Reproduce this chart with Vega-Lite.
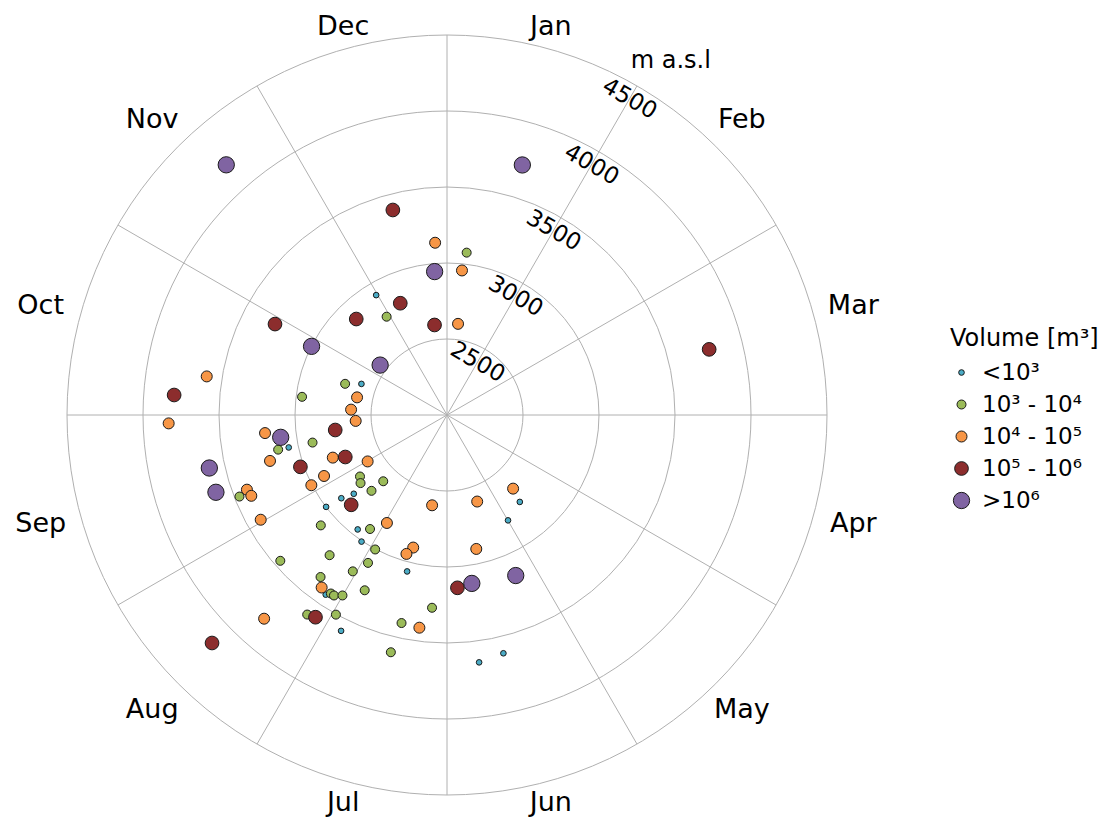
{
  "$schema": "https://vega.github.io/schema/vega-lite/v6.json",
  "width": 760,
  "height": 760,
  "autosize": {"type": "none"},
  "padding": {"left": 67, "top": 35, "right": 288, "bottom": 24},
  "background": "white",
  "config": {"view": {"stroke": null}, "font": "DejaVu Sans"},
  "datasets": {
    "rings": [{"r": 500}, {"r": 1000}, {"r": 1500}, {"r": 2000}, {"r": 2500}],
    "spokes": [{"a": 0}, {"a": 30}, {"a": 60}, {"a": 90}, {"a": 120}, {"a": 150}],
    "months": [
      {"m": "Jan", "i": 0}, {"m": "Feb", "i": 1}, {"m": "Mar", "i": 2}, {"m": "Apr", "i": 3},
      {"m": "May", "i": 4}, {"m": "Jun", "i": 5}, {"m": "Jul", "i": 6}, {"m": "Aug", "i": 7},
      {"m": "Sep", "i": 8}, {"m": "Oct", "i": 9}, {"m": "Nov", "i": 10}, {"m": "Dec", "i": 11}
    ],
    "elevlabels": [{"e": 2500}, {"e": 3000}, {"e": 3500}, {"e": 4000}, {"e": 4500}],
    "unit": [{"t": "m a.s.l", "a": 32.3, "rr": 2755}],
    "events": [
      {"doy": 294, "elev": 2599, "vol": "<10³"},
      {"doy": 262, "elev": 3063, "vol": "<10³"},
      {"doy": 236, "elev": 2999, "vol": "<10³"},
      {"doy": 235, "elev": 2885, "vol": "<10³"},
      {"doy": 233, "elev": 2803, "vol": "<10³"},
      {"doy": 221, "elev": 2955, "vol": "<10³"},
      {"doy": 217, "elev": 3005, "vol": "<10³"},
      {"doy": 197, "elev": 3062, "vol": "<10³"},
      {"doy": 217, "elev": 3426, "vol": "<10³"},
      {"doy": 209, "elev": 3582, "vol": "<10³"},
      {"doy": 175, "elev": 3641, "vol": "<10³"},
      {"doy": 169, "elev": 3611, "vol": "<10³"},
      {"doy": 142, "elev": 2746, "vol": "<10³"},
      {"doy": 152, "elev": 2801, "vol": "<10³"},
      {"doy": 334, "elev": 2916, "vol": "<10³"},
      {"doy": 291, "elev": 2701, "vol": "10³ - 10⁴"},
      {"doy": 281, "elev": 2961, "vol": "10³ - 10⁴"},
      {"doy": 262, "elev": 3134, "vol": "10³ - 10⁴"},
      {"doy": 262, "elev": 2903, "vol": "10³ - 10⁴"},
      {"doy": 238, "elev": 2701, "vol": "10³ - 10⁴"},
      {"doy": 235, "elev": 2724, "vol": "10³ - 10⁴"},
      {"doy": 252, "elev": 3467, "vol": "10³ - 10⁴"},
      {"doy": 227, "elev": 2605, "vol": "10³ - 10⁴"},
      {"doy": 228, "elev": 2704, "vol": "10³ - 10⁴"},
      {"doy": 232, "elev": 3103, "vol": "10³ - 10⁴"},
      {"doy": 217, "elev": 2905, "vol": "10³ - 10⁴"},
      {"doy": 211, "elev": 3003, "vol": "10³ - 10⁴"},
      {"doy": 223, "elev": 3203, "vol": "10³ - 10⁴"},
      {"doy": 211, "elev": 3103, "vol": "10³ - 10⁴"},
      {"doy": 214, "elev": 3201, "vol": "10³ - 10⁴"},
      {"doy": 221, "elev": 3352, "vol": "10³ - 10⁴"},
      {"doy": 232, "elev": 3457, "vol": "10³ - 10⁴"},
      {"doy": 208, "elev": 3274, "vol": "10³ - 10⁴"},
      {"doy": 216, "elev": 3401, "vol": "10³ - 10⁴"},
      {"doy": 215, "elev": 3401, "vol": "10³ - 10⁴"},
      {"doy": 213, "elev": 3372, "vol": "10³ - 10⁴"},
      {"doy": 218, "elev": 3603, "vol": "10³ - 10⁴"},
      {"doy": 212, "elev": 3503, "vol": "10³ - 10⁴"},
      {"doy": 196, "elev": 3604, "vol": "10³ - 10⁴"},
      {"doy": 187, "elev": 3272, "vol": "10³ - 10⁴"},
      {"doy": 195, "elev": 3401, "vol": "10³ - 10⁴"},
      {"doy": 7, "elev": 3076, "vol": "10³ - 10⁴"},
      {"doy": 333, "elev": 2759, "vol": "10³ - 10⁴"},
      {"doy": 283, "elev": 3601, "vol": "10⁴ - 10⁵"},
      {"doy": 272, "elev": 3832, "vol": "10⁴ - 10⁵"},
      {"doy": 285, "elev": 2603, "vol": "10⁴ - 10⁵"},
      {"doy": 277, "elev": 2632, "vol": "10⁴ - 10⁵"},
      {"doy": 270, "elev": 2602, "vol": "10⁴ - 10⁵"},
      {"doy": 268, "elev": 3203, "vol": "10⁴ - 10⁵"},
      {"doy": 259, "elev": 3203, "vol": "10⁴ - 10⁵"},
      {"doy": 253, "elev": 2802, "vol": "10⁴ - 10⁵"},
      {"doy": 243, "elev": 2605, "vol": "10⁴ - 10⁵"},
      {"doy": 247, "elev": 2903, "vol": "10⁴ - 10⁵"},
      {"doy": 246, "elev": 3005, "vol": "10⁴ - 10⁵"},
      {"doy": 253, "elev": 3405, "vol": "10⁴ - 10⁵"},
      {"doy": 251, "elev": 3393, "vol": "10⁴ - 10⁵"},
      {"doy": 192, "elev": 2602, "vol": "10⁴ - 10⁵"},
      {"doy": 212, "elev": 2813, "vol": "10⁴ - 10⁵"},
      {"doy": 197, "elev": 2900, "vol": "10⁴ - 10⁵"},
      {"doy": 199, "elev": 2952, "vol": "10⁴ - 10⁵"},
      {"doy": 244, "elev": 3406, "vol": "10⁴ - 10⁵"},
      {"doy": 219, "elev": 3403, "vol": "10⁴ - 10⁵"},
      {"doy": 225, "elev": 3801, "vol": "10⁴ - 10⁵"},
      {"doy": 170, "elev": 2902, "vol": "10⁴ - 10⁵"},
      {"doy": 190, "elev": 3411, "vol": "10⁴ - 10⁵"},
      {"doy": 163, "elev": 2603, "vol": "10⁴ - 10⁵"},
      {"doy": 140, "elev": 2651, "vol": "10⁴ - 10⁵"},
      {"doy": 361, "elev": 3136, "vol": "10⁴ - 10⁵"},
      {"doy": 6, "elev": 2956, "vol": "10⁴ - 10⁵"},
      {"doy": 7, "elev": 2604, "vol": "10⁴ - 10⁵"},
      {"doy": 278, "elev": 3800, "vol": "10⁵ - 10⁶"},
      {"doy": 266, "elev": 2742, "vol": "10⁵ - 10⁶"},
      {"doy": 251, "elev": 2724, "vol": "10⁵ - 10⁶"},
      {"doy": 254, "elev": 3023, "vol": "10⁵ - 10⁶"},
      {"doy": 230, "elev": 2864, "vol": "10⁵ - 10⁶"},
      {"doy": 216, "elev": 3587, "vol": "10⁵ - 10⁶"},
      {"doy": 229, "elev": 4154, "vol": "10⁵ - 10⁶"},
      {"doy": 179, "elev": 3139, "vol": "10⁵ - 10⁶"},
      {"doy": 350, "elev": 3395, "vol": "10⁵ - 10⁶"},
      {"doy": 342, "elev": 2797, "vol": "10⁵ - 10⁶"},
      {"doy": 321, "elev": 2869, "vol": "10⁵ - 10⁶"},
      {"doy": 357, "elev": 2598, "vol": "10⁵ - 10⁶"},
      {"doy": 302, "elev": 3280, "vol": "10⁵ - 10⁶"},
      {"doy": 77, "elev": 3778, "vol": "10⁵ - 10⁶"},
      {"doy": 301, "elev": 2999, "vol": ">10⁶"},
      {"doy": 266, "elev": 3104, "vol": ">10⁶"},
      {"doy": 261, "elev": 3602, "vol": ">10⁶"},
      {"doy": 255, "elev": 3603, "vol": ">10⁶"},
      {"doy": 174, "elev": 3120, "vol": ">10⁶"},
      {"doy": 159, "elev": 3149, "vol": ">10⁶"},
      {"doy": 360, "elev": 2947, "vol": ">10⁶"},
      {"doy": 311, "elev": 2549, "vol": ">10⁶"},
      {"doy": 17, "elev": 3718, "vol": ">10⁶"},
      {"doy": 323, "elev": 4195, "vol": ">10⁶"}
    ]
  },
  "layer": [
    {
      "data": {"name": "rings"},
      "mark": {"type": "arc", "filled": false, "stroke": "#b0b0b0", "strokeWidth": 1},
      "encoding": {
        "radius": {"field": "r", "type": "quantitative", "stack": null, "scale": {"type": "linear", "domain": [0, 2500], "range": [0, 380], "zero": true}},
        "theta": {"value": 0},
        "theta2": {"value": 6.2832}
      }
    },
    {
      "data": {"name": "spokes"},
      "transform": [
        {"calculate": "datum.a*PI/180", "as": "ar"},
        {"calculate": "-2500*sin(datum.ar)", "as": "xa"},
        {"calculate": "-2500*cos(datum.ar)", "as": "ya"},
        {"calculate": "2500*sin(datum.ar)", "as": "xb"},
        {"calculate": "2500*cos(datum.ar)", "as": "yb"}
      ],
      "mark": {"type": "rule", "stroke": "#b0b0b0", "strokeWidth": 1},
      "encoding": {
        "x": {"field": "xa", "type": "quantitative", "scale": {"domain": [-2500, 2500], "nice": false, "zero": false}, "axis": null},
        "y": {"field": "ya", "type": "quantitative", "scale": {"domain": [-2500, 2500], "nice": false, "zero": false}, "axis": null},
        "x2": {"field": "xb"},
        "y2": {"field": "yb"}
      }
    },
    {
      "data": {"name": "events"},
      "transform": [
        {"calculate": "datum.doy/365*2*PI", "as": "th"},
        {"calculate": "(datum.elev-2000)*sin(datum.th)", "as": "px"},
        {"calculate": "(datum.elev-2000)*cos(datum.th)", "as": "py"}
      ],
      "mark": {"type": "point", "filled": true, "stroke": "#1a1a1a", "strokeWidth": 1, "opacity": 1},
      "encoding": {
        "x": {"field": "px", "type": "quantitative", "scale": {"domain": [-2500, 2500], "nice": false, "zero": false}, "axis": null},
        "y": {"field": "py", "type": "quantitative", "scale": {"domain": [-2500, 2500], "nice": false, "zero": false}, "axis": null},
        "color": {
          "field": "vol", "type": "ordinal",
          "scale": {"domain": ["<10³", "10³ - 10⁴", "10⁴ - 10⁵", "10⁵ - 10⁶", ">10⁶"], "range": ["#4bacc6", "#9bbb59", "#f79646", "#8c2d2d", "#8064a2"]},
          "legend": {"title": "Volume [m³]", "orient": "none", "legendX": 883, "legendY": 292, "titleFontSize": 24, "titleFontWeight": "normal", "titleColor": "black", "titleFont": "DejaVu Sans", "labelFontSize": 23, "labelColor": "black", "labelFont": "DejaVu Sans", "symbolStrokeColor": "#1a1a1a", "symbolStrokeWidth": 1, "rowPadding": 8, "titlePadding": 10, "labelOffset": 9, "padding": 0, "symbolType": "circle"}
        },
        "size": {
          "field": "vol", "type": "ordinal",
          "scale": {"type": "ordinal", "domain": ["<10³", "10³ - 10⁴", "10⁴ - 10⁵", "10⁵ - 10⁶", ">10⁶"], "range": [32, 81, 121, 188, 266]},
          "legend": {"title": "Volume [m³]", "orient": "none", "legendX": 883, "legendY": 292, "titleFontSize": 24, "titleFontWeight": "normal", "titleColor": "black", "titleFont": "DejaVu Sans", "labelFontSize": 23, "labelColor": "black", "labelFont": "DejaVu Sans", "symbolStrokeColor": "#1a1a1a", "symbolStrokeWidth": 1, "rowPadding": 8, "titlePadding": 10, "labelOffset": 9, "padding": 0, "symbolType": "circle"}
        }
      }
    },
    {
      "data": {"name": "months"},
      "transform": [
        {"calculate": "(15+30*datum.i)*PI/180", "as": "ar"},
        {"calculate": "2570+181*abs(sin(datum.ar))+45*abs(sin(2*datum.ar))", "as": "rr"},
        {"calculate": "datum.rr*sin(datum.ar)", "as": "tx"},
        {"calculate": "datum.rr*cos(datum.ar)", "as": "ty"}
      ],
      "mark": {"type": "text", "fontSize": 27, "font": "DejaVu Sans", "align": "center", "baseline": "middle", "dy": 0, "color": "black"},
      "encoding": {
        "x": {"field": "tx", "type": "quantitative", "scale": {"domain": [-2500, 2500], "nice": false, "zero": false}, "axis": null},
        "y": {"field": "ty", "type": "quantitative", "scale": {"domain": [-2500, 2500], "nice": false, "zero": false}, "axis": null},
        "text": {"field": "m"}
      }
    },
    {
      "data": {"name": "elevlabels"},
      "transform": [
        {"calculate": "30*PI/180", "as": "ar"},
        {"calculate": "datum.e-2099", "as": "rr"},
        {"calculate": "datum.rr*sin(datum.ar)", "as": "tx"},
        {"calculate": "datum.rr*cos(datum.ar)", "as": "ty"}
      ],
      "mark": {"type": "text", "fontSize": 23, "font": "DejaVu Sans", "align": "center", "baseline": "middle", "angle": 30, "color": "black"},
      "encoding": {
        "x": {"field": "tx", "type": "quantitative", "scale": {"domain": [-2500, 2500], "nice": false, "zero": false}, "axis": null},
        "y": {"field": "ty", "type": "quantitative", "scale": {"domain": [-2500, 2500], "nice": false, "zero": false}, "axis": null},
        "text": {"field": "e"}
      }
    },
    {
      "data": {"name": "unit"},
      "transform": [
        {"calculate": "datum.a*PI/180", "as": "ar"},
        {"calculate": "datum.rr*sin(datum.ar)", "as": "tx"},
        {"calculate": "datum.rr*cos(datum.ar)", "as": "ty"}
      ],
      "mark": {"type": "text", "fontSize": 24, "font": "DejaVu Sans", "align": "center", "baseline": "middle", "color": "black"},
      "encoding": {
        "x": {"field": "tx", "type": "quantitative", "scale": {"domain": [-2500, 2500], "nice": false, "zero": false}, "axis": null},
        "y": {"field": "ty", "type": "quantitative", "scale": {"domain": [-2500, 2500], "nice": false, "zero": false}, "axis": null},
        "text": {"field": "t"}
      }
    }
  ]
}
